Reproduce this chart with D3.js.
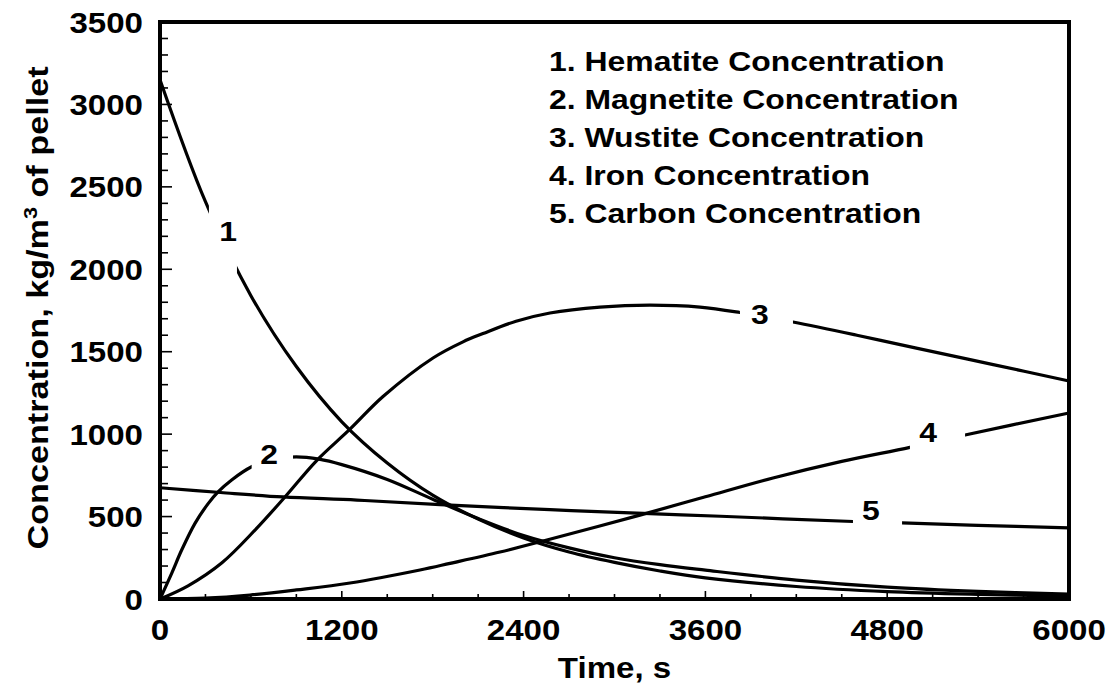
<!DOCTYPE html>
<html><head><meta charset="utf-8">
<script src="https://cdn.jsdelivr.net/npm/d3@7"></script>
<style>
html,body{margin:0;padding:0;background:#fff;}
text{font-family:"Liberation Sans",Arial,Helvetica,sans-serif;font-weight:bold;fill:#000;}
</style></head>
<body><svg id="chart" width="1117" height="689"></svg>
<script>
// ---- data (time in s, concentration in kg/m3) ----
const hematite  = [[0,3150],[300,2410],[600,1840],[900,1410],[1200,1075],[1500,825],[1800,630],[2100,485],[2400,370],[2700,285],[3000,222],[3300,170],[3600,128],[4200,76],[4800,45],[5400,28],[6000,17]];
const magnetite = [[0,0],[77,156],[143,297],[231,459],[319,580],[385,651],[473,722],[605,802],[750,848],[900,862],[1050,848],[1200,815],[1500,725],[1800,605],[2100,488],[2400,385],[2700,310],[3000,250],[3300,208],[3600,175],[4200,115],[4800,72],[5400,46],[6000,30]];
const wustite   = [[0,0],[185,80],[409,220],[627,418],[825,619],[1034,840],[1254,1030],[1472,1228],[1802,1462],[2000,1560],[2132,1610],[2350,1685],[2574,1735],[2904,1771],[3234,1783],[3564,1771],[3828,1738],[4178,1680],[4600,1600],[5000,1520],[5500,1422],[6000,1322]];
const iron      = [[0,0],[300,5],[594,24],[900,55],[1254,97],[1716,176],[1914,216],[2244,285],[2554,358],[3168,509],[3600,620],[4046,734],[4500,835],[4950,920],[5314,995],[6000,1128]];
const carbon    = [[0,675],[400,646],[812,619],[1300,600],[1848,572],[2574,542],[3234,518],[3700,502],[4574,470],[4898,462],[5400,447],[6000,432]];

const seriesList = [hematite, magnetite, wustite, iron, carbon];
const curveLabels = ["1","2","3","4","5"];
const labelT = [449, 720, 3960, 5070, 4693];
const labelV = [2230, 880, 1730, 1013, 540];
const gapStart = [323, 605, 3828, 4950, 4574];
const gapEnd   = [508, 878, 4178, 5314, 4898];

const legendItems = ["1. Hematite Concentration","2. Magnetite Concentration","3. Wustite Concentration","4. Iron Concentration","5. Carbon Concentration"];
const xTicks = [0,1200,2400,3600,4800,6000];
const xMinorTicks = d3.range(0,6001,300);
const yTicks = [0,500,1000,1500,2000,2500,3000,3500];
const yMinorTicks = d3.range(0,3501,100);
const xTitle = "Time, s";

// ---- layout ----
const L=160, R=1069, T=22, B=599;
const STR = 1.14; // horizontal text stretch
const svg = d3.select("#chart");
const x = d3.scaleLinear().domain([0,6000]).range([L,R]);
const y = d3.scaleLinear().domain([0,3500]).range([B,T]);

function stext(g, px, py, str, size, anchor){
  const gg = g.append("g").attr("transform",`translate(${px},${py}) scale(${STR},1)`);
  return gg.append("text").attr("text-anchor",anchor||"middle").style("font-size",size+"px").text(str);
}

// ticks (inside)
const ax = svg.append("g");
ax.selectAll(".ym").data(yMinorTicks).join("line")
  .attr("x1",L).attr("x2",d=>L+(d%500===0?12:8)).attr("y1",d=>y(d)).attr("y2",d=>y(d))
  .attr("stroke","#000").attr("stroke-width",1.6);
ax.selectAll(".xm").data(xMinorTicks).join("line")
  .attr("y1",B).attr("y2",d=>B-(d%1200===0?8:5)).attr("x1",d=>x(d)).attr("x2",d=>x(d))
  .attr("stroke","#000").attr("stroke-width",1.6);

// tick labels
yTicks.forEach(v=>stext(svg, 143, y(v)+10.5, String(v), 29, "end"));
xTicks.forEach(t=>stext(svg, x(t), 640, String(t), 29, "middle"));

// curves
const line = d3.line().x(d=>x(d[0])).y(d=>y(d[1])).curve(d3.curveCatmullRom.alpha(0.5));
const defs = svg.append("defs");
seriesList.forEach((s,i)=>{
  const m = defs.append("mask").attr("id","m"+i).attr("maskUnits","userSpaceOnUse")
     .attr("x",0).attr("y",0).attr("width",1117).attr("height",689);
  m.append("rect").attr("x",0).attr("y",0).attr("width",1117).attr("height",689).attr("fill","#fff");
  m.append("rect").attr("x",x(gapStart[i])).attr("y",0).attr("width",x(gapEnd[i])-x(gapStart[i])).attr("height",689).attr("fill","#000");
  svg.append("path").attr("d",line(s)).attr("fill","none").attr("stroke","#000")
     .attr("stroke-width",3.2).attr("mask",`url(#m${i})`);
  stext(svg, x(labelT[i]), y(labelV[i])+10, curveLabels[i], 28, "middle");
});

// frame
svg.append("rect").attr("x",L).attr("y",T).attr("width",R-L).attr("height",B-T)
  .attr("fill","none").attr("stroke","#000").attr("stroke-width",4);

// legend
legendItems.forEach((s,i)=>stext(svg, 549, 71+i*38, s, 28, "start"));

// axis titles
stext(svg, (L+R)/2, 678, xTitle, 29, "middle");
const yt = svg.append("g").attr("transform",`translate(48,308) rotate(-90) scale(${STR},1)`)
  .append("text").attr("text-anchor","middle").style("font-size","30px");
yt.append("tspan").text("Concentration, kg/m");
yt.append("tspan").attr("dy",-11).style("font-size","19px").text("3");
yt.append("tspan").attr("dy",11).text(" of pellet");
</script></body></html>
